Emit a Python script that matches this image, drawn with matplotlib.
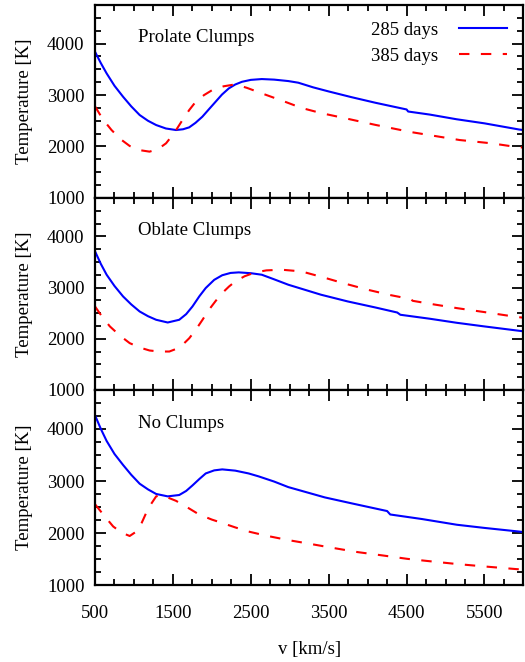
import matplotlib
matplotlib.use("Agg")
import matplotlib.pyplot as plt
from matplotlib.ticker import MultipleLocator

plt.rcParams['font.family'] = ['Liberation Serif', 'DejaVu Serif']

# velocity [km/s] and temperature [K]
prolate_285_v = [500, 575, 649, 750, 860, 965, 1073, 1180, 1285, 1410, 1540, 1630, 1709, 1790, 1878, 1960, 2048, 2130, 2218, 2300, 2387, 2500, 2641, 2800, 2981, 3110, 3300, 3500, 3790, 4100, 4500, 4520, 4800, 5140, 5500, 5945, 6000]
prolate_285_T = [3841, 3620, 3421, 3180, 2967, 2780, 2612, 2500, 2417, 2350, 2320, 2335, 2372, 2460, 2579, 2720, 2870, 3010, 3130, 3205, 3258, 3295, 3311, 3300, 3272, 3240, 3150, 3070, 2960, 2850, 2720, 2680, 2620, 2530, 2450, 2330, 2320]
prolate_385_v = [500, 600, 712, 830, 945, 1070, 1200, 1310, 1412, 1520, 1623, 1710, 1793, 1900, 2005, 2150, 2302, 2450, 2641, 2939, 3150, 3400, 3700, 4100, 4550, 5180, 5600, 5910, 6000]
prolate_385_T = [2780, 2530, 2320, 2140, 2010, 1930, 1900, 1950, 2062, 2270, 2515, 2710, 2870, 3000, 3097, 3170, 3208, 3140, 3033, 2870, 2750, 2650, 2553, 2420, 2282, 2126, 2060, 1990, 1980]

oblate_285_v = [500, 575, 649, 750, 860, 965, 1073, 1180, 1285, 1433, 1581, 1670, 1751, 1840, 1921, 2030, 2133, 2240, 2345, 2500, 2641, 2800, 2981, 3400, 3745, 4100, 4380, 4420, 4800, 5145, 5500, 5945, 6000]
oblate_285_T = [3707, 3460, 3250, 3030, 2826, 2670, 2532, 2440, 2370, 2317, 2370, 2480, 2630, 2830, 2990, 3150, 3240, 3285, 3296, 3280, 3250, 3160, 3055, 2860, 2728, 2610, 2512, 2468, 2390, 2311, 2240, 2155, 2145]
oblate_385_v = [500, 600, 691, 820, 945, 1070, 1200, 1330, 1454, 1540, 1623, 1710, 1793, 1880, 1963, 2050, 2133, 2220, 2302, 2420, 2557, 2700, 2896, 3150, 3450, 3700, 4000, 4300, 4550, 4580, 4850, 5145, 5500, 5870, 6000]
oblate_385_T = [2630, 2410, 2240, 2060, 1914, 1830, 1770, 1750, 1750, 1800, 1880, 2010, 2174, 2370, 2566, 2740, 2892, 3020, 3120, 3220, 3296, 3335, 3348, 3315, 3190, 3080, 2957, 2850, 2775, 2740, 2670, 2598, 2520, 2435, 2410]

none_285_v = [500, 575, 649, 750, 860, 965, 1073, 1180, 1285, 1433, 1581, 1670, 1751, 1840, 1921, 2030, 2133, 2300, 2472, 2600, 2800, 2981, 3450, 3800, 4250, 4290, 4700, 5145, 5500, 5945, 6000]
none_285_T = [4262, 4000, 3770, 3520, 3309, 3120, 2949, 2840, 2752, 2706, 2732, 2810, 2916, 3040, 3146, 3205, 3224, 3200, 3146, 3090, 2990, 2884, 2686, 2570, 2424, 2358, 2270, 2161, 2100, 2030, 2020]
none_385_v = [500, 620, 733, 840, 945, 1030, 1100, 1158, 1220, 1285, 1349, 1440, 1540, 1690, 1836, 2000, 2133, 2300, 2472, 2700, 2981, 3235, 3500, 3870, 4200, 4510, 4800, 5145, 5500, 5910, 6000]
none_385_T = [2555, 2330, 2128, 2010, 1945, 2030, 2200, 2392, 2560, 2706, 2732, 2680, 2620, 2490, 2358, 2260, 2195, 2110, 2030, 1950, 1866, 1801, 1730, 1636, 1570, 1506, 1460, 1407, 1360, 1309, 1300]

panels = [
    ("Prolate Clumps", prolate_285_v, prolate_285_T, prolate_385_v, prolate_385_T),
    ("Oblate Clumps", oblate_285_v, oblate_285_T, oblate_385_v, oblate_385_T),
    ("No Clumps", none_285_v, none_285_T, none_385_v, none_385_T),
]

fig = plt.figure(figsize=(5.25, 6.62), dpi=100)
left, right = 0.181, 0.997
edges = [0.9924, 0.701, 0.411, 0.116]

for i, (title, v1, t1, v2, t2) in enumerate(panels):
    ax = fig.add_axes([left, edges[i + 1], right - left, edges[i] - edges[i + 1]])
    ax.plot(v1, t1, color='#0000ff', lw=1.5, label='285 days')
    ax.plot(v2, t2, color='#ff0000', lw=1.5, dashes=(5, 5.5), label='385 days')
    ax.set_xlim(500, 6000)
    ax.set_ylim(1000, 4750)
    ax.xaxis.set_minor_locator(MultipleLocator(250))
    ax.yaxis.set_major_locator(MultipleLocator(1000))
    ax.yaxis.set_minor_locator(MultipleLocator(250))
    ax.set_xticks([500, 1500, 2500, 3500, 4500, 5500])
    ax.tick_params(which='both', direction='in', top=True, right=True, width=1.3, labelsize=13.5)
    ax.tick_params(which='major', length=8)
    ax.tick_params(which='minor', length=4.5)
    ax.tick_params(axis='y', pad=7.5)
    ax.tick_params(axis='x', pad=14)
    for s in ax.spines.values():
        s.set_linewidth(1.6)
    ax.set_ylabel('Temperature [K]', fontsize=13.5, labelpad=10)
    ax.text(0.1, 0.83, title, transform=ax.transAxes, fontsize=13.5, ha='left', va='center')
    if i < 2:
        ax.tick_params(labelbottom=False)
    else:
        ax.set_xlabel('v [km/s]', fontsize=13.5, labelpad=14)
    if i == 0:
        ax.legend(loc='upper right', frameon=False, markerfirst=False, fontsize=13.5,
                  handlelength=2.56, handletextpad=1.07, borderaxespad=0.5, labelspacing=0.45,
                  bbox_to_anchor=(1.0, 1.0))

fig.savefig('out.png', dpi=100)
